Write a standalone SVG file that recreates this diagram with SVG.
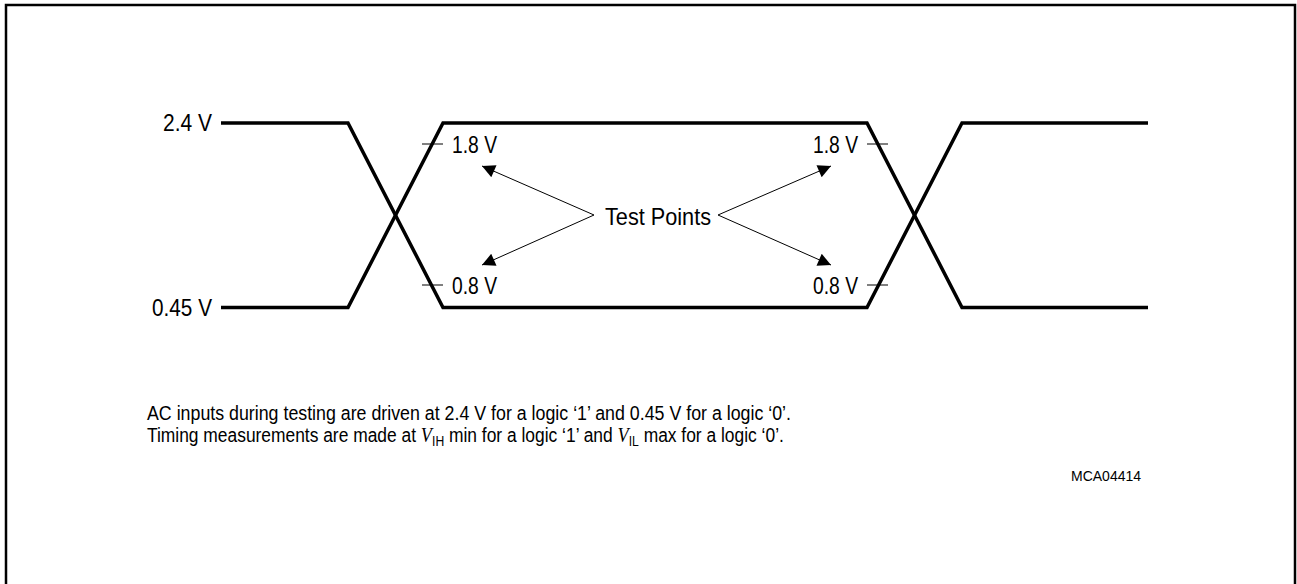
<svg xmlns="http://www.w3.org/2000/svg" width="1297" height="584" viewBox="0 0 1297 584">
<defs>
<style>
.frame{fill:none;stroke:#000;stroke-width:2.5}
.wave{fill:none;stroke:#000;stroke-width:3.5;stroke-linejoin:miter}
.tick{stroke:#000;stroke-width:1}
.arrow{stroke:#000;stroke-width:1;fill:none}
.lbl{font-family:"Liberation Sans",Arial,sans-serif;font-size:24px;fill:#000}
.note{font-family:"Liberation Sans",Arial,sans-serif;font-size:20px;fill:#000}
.small{font-family:"Liberation Sans",Arial,sans-serif;font-size:14px;fill:#000}
</style>
<marker id="ah" viewBox="0 0 10 10" refX="10" refY="5" markerWidth="17" markerHeight="13" markerUnits="userSpaceOnUse" orient="auto">
<path d="M0,0 L10,5 L0,10 Z" fill="#000"/>
</marker>
</defs>
<rect width="1297" height="584" fill="#fff"/>
<polyline class="frame" points="6,584 6,5 1295,5 1295,584"/>
<g id="waveform">
<polyline class="wave" points="221,123 348,123 443,307.5 867,307.5 962,123 1148,123"/>
<polyline class="wave" points="221,307.5 348,307.5 443,123 867,123 962,307.5 1148,307.5"/>
</g>
<g id="ticks">
<line class="tick" x1="422" y1="144" x2="443" y2="144"/>
<line class="tick" x1="422" y1="285" x2="443" y2="285"/>
<line class="tick" x1="867" y1="144" x2="888" y2="144"/>
<line class="tick" x1="867" y1="285" x2="888" y2="285"/>
</g>
<g id="connectors">
<line class="arrow" x1="594" y1="215" x2="482" y2="166" marker-end="url(#ah)"/>
<line class="arrow" x1="594" y1="215" x2="482" y2="265" marker-end="url(#ah)"/>
<line class="arrow" x1="718" y1="215" x2="831" y2="166" marker-end="url(#ah)"/>
<line class="arrow" x1="718" y1="215" x2="831" y2="265" marker-end="url(#ah)"/>
</g>
<g id="level-labels">
<text class="lbl" x="212" y="131" text-anchor="end" textLength="49" lengthAdjust="spacingAndGlyphs">2.4 V</text>
<text class="lbl" x="212" y="316" text-anchor="end" textLength="60" lengthAdjust="spacingAndGlyphs">0.45 V</text>
</g>
<g id="test-point-labels">
<text class="lbl" x="452" y="153" textLength="45" lengthAdjust="spacingAndGlyphs">1.8 V</text>
<text class="lbl" x="452" y="294" textLength="45" lengthAdjust="spacingAndGlyphs">0.8 V</text>
<text class="lbl" x="813" y="153" textLength="45" lengthAdjust="spacingAndGlyphs">1.8 V</text>
<text class="lbl" x="813" y="294" textLength="45" lengthAdjust="spacingAndGlyphs">0.8 V</text>
</g>
<g id="test-points">
<text class="lbl" x="605" y="225" textLength="106" lengthAdjust="spacingAndGlyphs">Test Points</text>
</g>
<g id="notes">
<text class="note" x="147" y="420" textLength="644" lengthAdjust="spacingAndGlyphs">AC inputs during testing are driven at 2.4 V for a logic ‘1’ and 0.45 V for a logic ‘0’.</text>
<g transform="translate(147,0) scale(0.87,1) translate(-147,0)">
<text class="note" x="147" y="442">Timing measurements are made at <tspan font-family="'Liberation Serif',serif" font-style="italic" font-size="21">V</tspan><tspan font-size="14" dy="4">IH</tspan><tspan dy="-4"> min for a logic ‘1’ and </tspan><tspan font-family="'Liberation Serif',serif" font-style="italic" font-size="21">V</tspan><tspan font-size="14" dy="4">IL</tspan><tspan dy="-4"> max for a logic ‘0’.</tspan></text>
</g>
<text class="small" x="1071" y="481">MCA04414</text>
</g>
</svg>
